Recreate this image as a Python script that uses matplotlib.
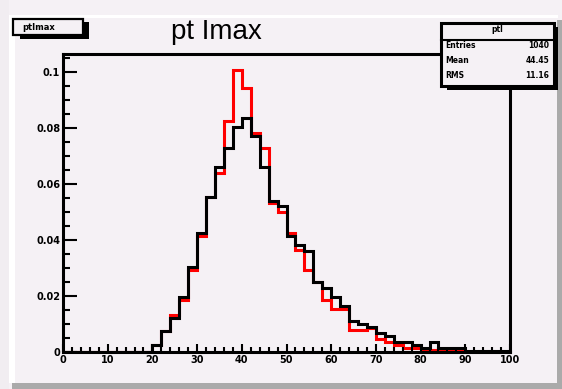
import numpy as np
import matplotlib
matplotlib.use("Agg")
import matplotlib.pyplot as plt
from matplotlib.patches import Rectangle

# bin edges of the histograms (50 bins of width 2)
edges = np.arange(0, 102, 2)

# normalised contents
black_vals = [0.0] * 10 + [
    0.0024, 0.0076, 0.0123, 0.0195, 0.0302, 0.0424, 0.0554, 0.0660, 0.0727, 0.0802,
    0.0834, 0.0771, 0.0660, 0.0540, 0.0521, 0.0415, 0.0381, 0.0361, 0.0250, 0.0229,
    0.0196, 0.0164, 0.0110, 0.0100, 0.0089, 0.0067, 0.0056, 0.0036, 0.0036, 0.0025,
    0.0014, 0.0036, 0.0014, 0.0014, 0.0014, 0.0004, 0.0004, 0.0004, 0.0004, 0.0004]
red_vals = [0.0] * 10 + [
    0.0024, 0.0076, 0.0131, 0.0186, 0.0292, 0.0414, 0.0554, 0.0638, 0.0825, 0.1007,
    0.0942, 0.0781, 0.0727, 0.0531, 0.0499, 0.0424, 0.0364, 0.0293, 0.0250, 0.0186,
    0.0154, 0.0154, 0.0079, 0.0079, 0.0085, 0.0046, 0.0036, 0.0025, 0.0014, 0.0014,
    0.0007, 0.0007, 0.0007, 0.0007, 0.0007, 0.0, 0.0, 0.0, 0.0, 0.0]

xticks = [0, 10, 20, 30, 40, 50, 60, 70, 80, 90, 100]
yticks = [0, 0.02, 0.04, 0.06, 0.08, 0.1]
ytick_labels = ["0", "0.02", "0.04", "0.06", "0.08", "0.1"]

stats_name = "ptl"
stats_rows = [("Entries", "1040"), ("Mean", "44.45"), ("RMS", "11.16")]

W, H = 562, 389
BG = "#f5f1f5"

fig = plt.figure(figsize=(W / 100, H / 100), dpi=100)
fig.patch.set_facecolor(BG)


def px(x0, y0, x1, y1):
    # pixel box (top-left origin) -> figure fraction rectangle
    return (x0 / W, 1 - y1 / H), (x1 - x0) / W, (y1 - y0) / H


def box(x0, y0, x1, y1, **kw):
    xy, w, h = px(x0, y0, x1, y1)
    r = Rectangle(xy, w, h, transform=fig.transFigure, **kw)
    fig.patches.append(r)


# canvas bevel
box(0, 0, 9, H, facecolor="#f1edf1", edgecolor="none")
box(9, 16, 15, 383, facecolor="white", edgecolor="none")
box(9, 15, 558, 18, facecolor="white", edgecolor="none")
box(12, 383, W, H, facecolor="#aaaaaa", edgecolor="none")
box(557, 20, W, H, facecolor="#aaaaaa", edgecolor="none")

ax = fig.add_axes([63 / W, 1 - 352 / H, (510 - 63) / W, (352 - 54) / H])
ax.set_facecolor(BG)

ax.stairs(red_vals, edges, color="red", linewidth=2.2, baseline=None)
ax.stairs(black_vals, edges, color="black", linewidth=2.2, baseline=None)

ax.set_xlim(0, 100)
ax.set_ylim(0, 0.1063)

ax.set_xticks(xticks)
ax.set_xticks(np.arange(0, 101, 2), minor=True)
ax.set_yticks(yticks)
ax.set_yticklabels(ytick_labels)
ax.set_yticks(np.arange(0, 0.106, 0.005), minor=True)

ax.tick_params(axis="x", which="major", direction="in", length=6, width=1.5, pad=2,
               labelsize=7, top=False)
ax.tick_params(axis="x", which="minor", direction="in", length=3.5, width=1.5, top=False)
ax.tick_params(axis="y", which="major", direction="in", length=10, width=1.5, pad=2,
               labelsize=7, right=False)
ax.tick_params(axis="y", which="minor", direction="in", length=5, width=1.5, right=False)
for lab in ax.get_xticklabels() + ax.get_yticklabels():
    lab.set_fontweight("bold")

for s in ax.spines.values():
    s.set_linewidth(2.2)
    s.set_color("black")

# title box, top left
box(20, 34, 89, 39, facecolor="black", edgecolor="none")
box(83, 22, 89, 39, facecolor="black", edgecolor="none")
box(13, 19, 83, 35, facecolor=BG, edgecolor="black", linewidth=1.6)
fig.text(22 / W, 1 - 27 / H, "ptlmax", fontsize=6, fontweight="bold", va="center", ha="left")

# big title
fig.text(216 / W, 1 - 39 / H, "pt Imax", fontsize=20, family="Liberation Sans",
         ha="center", va="baseline")

# stats box
box(447, 84, 558, 90, facecolor="black", edgecolor="none")
box(553, 27, 558, 90, facecolor="black", edgecolor="none")
box(441, 23, 554, 86, facecolor=BG, edgecolor="black", linewidth=2.2)
fig.lines.append(plt.Line2D([441 / W, 554 / W], [1 - 40 / H, 1 - 40 / H],
                            transform=fig.transFigure, color="black", linewidth=1.5))
fig.text(497 / W, 1 - 30 / H, stats_name, fontsize=5.5, fontweight="bold",
         ha="center", va="center")
for k, (name, val) in enumerate(stats_rows):
    yy = 1 - (46 + 14.5 * k) / H
    fig.text(445 / W, yy, name, fontsize=5.5, fontweight="bold", ha="left", va="center")
    fig.text(549 / W, yy, val, fontsize=5.5, fontweight="bold", ha="right", va="center")

fig.savefig("out.png", dpi=100, facecolor=fig.get_facecolor())
